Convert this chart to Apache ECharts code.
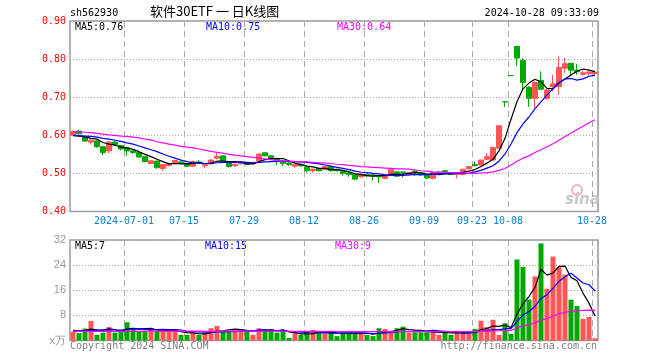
<!DOCTYPE html>
<html><head><meta charset="utf-8">
<script src="https://cdn.jsdelivr.net/npm/echarts@6/dist/echarts.min.js"></script>
<style>html,body{margin:0;padding:0;background:#fff}#c{width:660px;height:360px}</style>
</head><body><div id="c"></div>
<script>
const dates = ['2024-06-18','2024-06-19','2024-06-20','2024-06-21','2024-06-24','2024-06-25','2024-06-26','2024-06-27','2024-06-28',
'2024-07-01','2024-07-02','2024-07-03','2024-07-04','2024-07-05','2024-07-08','2024-07-09','2024-07-10','2024-07-11','2024-07-12',
'2024-07-15','2024-07-16','2024-07-17','2024-07-18','2024-07-19','2024-07-22','2024-07-23','2024-07-24','2024-07-25','2024-07-26',
'2024-07-29','2024-07-30','2024-07-31','2024-08-01','2024-08-02','2024-08-05','2024-08-06','2024-08-07','2024-08-08','2024-08-09',
'2024-08-12','2024-08-13','2024-08-14','2024-08-15','2024-08-16','2024-08-19','2024-08-20','2024-08-21','2024-08-22','2024-08-23',
'2024-08-26','2024-08-27','2024-08-28','2024-08-29','2024-08-30','2024-09-02','2024-09-03','2024-09-04','2024-09-05','2024-09-06',
'2024-09-09','2024-09-10','2024-09-11','2024-09-12','2024-09-13','2024-09-18','2024-09-19','2024-09-20',
'2024-09-23','2024-09-24','2024-09-25','2024-09-26','2024-09-27','2024-09-30',
'2024-10-08','2024-10-09','2024-10-10','2024-10-11','2024-10-14','2024-10-15','2024-10-16','2024-10-17','2024-10-18',
'2024-10-21','2024-10-22','2024-10-23','2024-10-24','2024-10-25','2024-10-28'];

const opens = [.600,.611,.594,.582,.585,.570,.559,.582,.573,.567,
.559,.555,.544,.526,.532,.513,.521,.528,.530,.526,
.519,.530,.520,.525,.540,.546,.527,.520,.525,.528,
.525,.533,.554,.546,.537,.529,.527,.519,.524,.516,
.507,.513,.511,.518,.511,.505,.501,.498,.491,.497,
.496,.494,.487,.498,.504,.504,.497,.506,.502,.495,
.487,.501,.507,.499,.497,.497,.512,.523,.522,.537,
.535,.566,.688,.757,.833,.796,.726,.697,.744,.697,
.728,.728,.776,.789,.771,.760,.762,.762];
const closes = [.610,.604,.585,.587,.570,.555,.582,.576,.564,.559,
.555,.543,.531,.533,.515,.523,.525,.534,.527,.519,
.531,.527,.524,.535,.545,.533,.518,.524,.528,.524,
.529,.551,.546,.538,.532,.526,.523,.523,.520,.507,
.511,.507,.518,.507,.507,.500,.497,.485,.498,.494,
.493,.491,.493,.511,.493,.502,.502,.503,.496,.488,
.502,.504,.505,.497,.499,.511,.518,.521,.535,.544,
.568,.625,.688,.757,.803,.739,.697,.739,.721,.719,
.735,.778,.788,.771,.767,.764,.766,.766];
const lows = [.598,.602,.582,.576,.567,.548,.553,.573,.560,.546,
.551,.540,.529,.524,.512,.507,.518,.526,.525,.517,
.517,.525,.513,.523,.537,.532,.515,.517,.523,.522,
.523,.531,.545,.535,.522,.519,.520,.513,.518,.502,
.502,.505,.509,.505,.505,.494,.491,.482,.489,.490,
.482,.475,.485,.496,.491,.489,.495,.493,.494,.486,
.484,.499,.498,.496,.487,.495,.510,.518,.521,.535,
.534,.565,.674,.757,.781,.721,.675,.672,.718,.693,
.715,.706,.763,.755,.759,.757,.757,.758];
const highs = [.612,.615,.596,.589,.587,.571,.586,.585,.575,.570,
.562,.557,.546,.535,.534,.524,.528,.536,.532,.527,
.533,.535,.525,.537,.557,.547,.529,.526,.529,.530,
.530,.552,.556,.548,.541,.531,.530,.526,.526,.517,
.512,.514,.519,.521,.512,.507,.502,.499,.499,.499,
.500,.495,.494,.512,.505,.504,.503,.509,.503,.496,
.503,.505,.509,.500,.500,.512,.519,.531,.536,.553,
.570,.627,.688,.757,.833,.803,.729,.741,.768,.721,
.759,.807,.803,.790,.788,.770,.770,.768];

const ma5 = [.599,.598,.596,.592,.590,.581,.577,.574,.569,.567,
.563,.557,.550,.544,.537,.531,.525,.526,.525,.525,
.527,.528,.526,.527,.532,.532,.531,.531,.530,.525,
.525,.531,.536,.538,.539,.539,.533,.527,.523,.519,
.517,.513,.513,.510,.510,.508,.504,.499,.497,.494,
.493,.494,.494,.498,.497,.498,.500,.502,.501,.498,
.498,.497,.499,.499,.501,.503,.506,.510,.518,.527,
.537,.559,.592,.642,.688,.722,.737,.747,.740,.723,
.722,.738,.748,.758,.768,.774,.771,.767];
const ma10 = [.600,.599,.598,.597,.595,.592,.590,.587,.584,.580,
.577,.572,.567,.562,.557,.551,.545,.540,.535,.531,
.528,.527,.526,.526,.528,.529,.529,.529,.530,.529,
.528,.529,.530,.531,.532,.532,.531,.531,.530,.529,
.527,.525,.522,.519,.516,.513,.510,.506,.503,.502,
.500,.499,.496,.495,.494,.495,.496,.497,.497,.497,
.498,.499,.500,.500,.500,.500,.500,.504,.508,.514,
.520,.532,.551,.577,.607,.630,.648,.670,.688,.706,
.722,.738,.748,.749,.745,.748,.755,.758];
const ma30 = [.610,.609,.608,.607,.605,.603,.601,.600,.598,.597,
.595,.593,.590,.588,.583,.580,.577,.574,.571,.569,
.567,.564,.561,.558,.555,.553,.550,.548,.546,.544,
.542,.540,.538,.536,.534,.533,.532,.531,.530,.530,
.529,.528,.527,.526,.524,.523,.521,.520,.518,.517,
.516,.515,.514,.513,.512,.512,.511,.509,.507,.506,
.504,.503,.503,.502,.502,.501,.500,.500,.501,.502,
.504,.508,.513,.522,.532,.540,.546,.555,.562,.570,
.578,.587,.597,.606,.615,.624,.633,.641];

const volumes = [2.8,2.4,3.8,6.2,1.8,2.5,4.3,2.5,3.5,5.8,
3.6,3.0,3.0,3.9,3.0,3.0,3.0,3.0,1.8,1.8,
2.5,1.8,2.4,3.9,4.6,3.0,3.0,3.6,3.5,3.1,
1.8,3.9,3.6,3.7,2.5,3.1,0.8,2.5,1.8,2.3,
3.4,2.5,2.3,2.3,1.4,3.0,2.3,2.3,2.3,1.8,
1.4,3.9,3.7,3.1,3.9,4.4,2.5,2.6,2.6,2.6,
3.2,1.8,2.6,1.8,3.0,2.3,2.3,3.7,6.3,4.3,
6.6,1.8,5.5,2.1,25.8,23.4,13.0,20.4,30.9,16.5,
26.7,23.4,21.0,13.0,11.0,6.9,7.5,0.7];
const volMa5 = [3.2,3.1,3.2,3.6,3.4,3.3,3.7,3.5,2.9,3.7,
3.9,3.7,3.8,3.9,3.3,3.2,3.2,3.2,2.8,2.5,
2.4,2.2,2.1,2.5,3.0,3.1,3.4,3.6,3.5,3.2,
3.0,3.2,3.2,3.2,3.1,3.4,2.7,2.5,2.1,2.1,
2.2,2.5,2.5,2.6,2.4,2.3,2.3,2.3,2.3,2.3,
2.0,2.3,2.6,2.8,3.2,3.8,3.5,3.3,3.2,2.9,
2.7,2.6,2.6,2.4,2.5,2.3,2.4,2.6,3.5,3.8,
4.6,4.5,4.9,4.1,8.4,11.7,14.0,16.9,22.7,20.8,
21.5,23.6,23.7,20.1,19.0,15.1,11.9,7.8];
const volMa10 = [3.0,3.0,3.1,3.2,3.2,3.3,3.4,3.35,3.25,3.55,
3.6,3.7,3.65,3.4,3.5,3.55,3.45,3.5,3.35,2.9,
2.8,2.7,2.65,2.65,2.75,2.75,2.8,2.85,3.0,3.1,
3.05,3.3,3.4,3.35,3.15,3.2,2.95,2.85,2.65,2.6,
2.8,2.6,2.5,2.35,2.25,2.25,2.4,2.4,2.45,2.35,
2.15,2.3,2.45,2.55,2.75,2.9,2.9,2.95,3.0,3.05,
3.25,3.05,2.95,2.8,2.7,2.5,2.5,2.6,2.95,3.15,
3.45,3.45,3.75,3.8,6.1,8.15,9.25,10.9,13.4,14.6,
16.6,18.8,20.3,21.4,19.9,18.3,17.75,15.75];
const volMa30 = [2.9,2.9,2.9,2.9,2.9,2.9,2.9,2.9,2.9,2.9,
2.9,2.9,3.0,3.0,3.0,3.0,3.0,3.0,3.0,3.0,
3.0,3.0,2.9,2.9,2.9,3.0,3.0,3.0,3.0,3.0,
3.0,3.0,3.0,3.0,3.0,3.0,2.9,2.9,2.9,2.9,
2.9,2.9,2.9,2.9,2.8,2.8,2.8,2.8,2.8,2.8,
2.8,2.8,2.8,2.8,2.8,2.8,2.8,2.8,2.8,2.8,
2.8,2.8,2.8,2.8,2.8,2.8,2.8,2.8,2.9,3.0,
3.1,3.1,3.2,3.2,4.0,4.7,5.0,5.6,6.5,7.0,
7.8,8.5,9.0,9.3,9.5,9.6,9.7,9.6];

const tickDates = ['2024-07-01','2024-07-15','2024-07-29','2024-08-12','2024-08-26','2024-09-09','2024-09-23','2024-10-08','2024-10-28'];
const tickLabels = ['2024-07-01','07-15','07-29','08-12','08-26','09-09','09-23','10-08','10-28'];
const priceTicks = {min:0.40, max:0.90, step:0.10};
const volTicks = {min:0, max:32, step:8};
const maLabels = {price:['MA5:0.76','MA10:0.75','MA30:0.64'], vol:['MA5:7','MA10:15','MA30:9']};

const UP = '#ff5555', DOWN = '#00a800';
const MONO = 'DejaVu Sans Mono';
const tickIdx = tickDates.map(d => dates.indexOf(d));
const isTick = (i) => tickIdx.indexOf(i) >= 0;

const candle = dates.map((d,i) => [opens[i], closes[i], lows[i], highs[i]]);
const volBars = volumes.map((v,i) => ({value:v, itemStyle:{color: closes[i] > opens[i] ? UP : DOWN}}));

const gridBorder = {show:true, borderColor:'#9a9a9a', borderWidth:1.5, backgroundColor:'transparent'};
const vSplit = {show:true, interval:(i)=>isTick(i), lineStyle:{color:'#aaaaaa', type:[6,4], width:1}};
const hSplit = {show:true, lineStyle:{color:'#aaaaaa', type:[1,2], width:1}};

function lineSeries(data, color, xi){
  return {type:'line', data, xAxisIndex:xi, yAxisIndex:xi, showSymbol:false, symbol:'none',
    lineStyle:{color, width:1.2}, itemStyle:{color}, silent:true, z:5};
}

const chart = echarts.init(document.getElementById('c'), null, {renderer:'canvas'});
chart.setOption({
  animation:false,
  backgroundColor:'#fff',
  grid:[
    Object.assign({left:70, top:21, width:528, height:190.5}, gridBorder),
    Object.assign({left:70, top:240, width:528, height:100.5}, gridBorder)
  ],
  xAxis:[
    {type:'category', data:dates, gridIndex:0, boundaryGap:true,
     axisLine:{show:false}, axisTick:{show:false},
     axisLabel:{interval:(i)=>isTick(i), formatter:(v,i)=>tickLabels[tickIdx.indexOf(i)] || '',
       color:'#0a7fd6', fontFamily:MONO, fontSize:10, margin:5, padding:[0,6,0,0]},
     splitLine:vSplit},
    {type:'category', data:dates, gridIndex:1, boundaryGap:true,
     axisLine:{show:false}, axisTick:{show:false}, axisLabel:{show:false},
     splitLine:vSplit}
  ],
  yAxis:[
    {type:'value', gridIndex:0, min:priceTicks.min, max:priceTicks.max, interval:priceTicks.step,
     axisLine:{show:false}, axisTick:{show:false},
     axisLabel:{color:'#ff0000', fontFamily:MONO, fontSize:10, margin:4, formatter:(v)=>v.toFixed(2)},
     splitLine:hSplit},
    {type:'value', gridIndex:1, min:volTicks.min, max:volTicks.max, interval:volTicks.step,
     axisLine:{show:false}, axisTick:{show:false},
     axisLabel:{color:'#999999', fontFamily:'Liberation Sans', fontSize:11, margin:4, formatter:(v)=> v===0 ? 'x万' : String(v)},
     splitLine:hSplit}
  ],
  series:[
    {type:'candlestick', data:candle, xAxisIndex:0, yAxisIndex:0, barWidth:5,
     itemStyle:{color:UP, color0:DOWN, borderColor:UP, borderColor0:DOWN, borderColorDoji:DOWN, borderWidth:1}, z:3},
    lineSeries(ma5, '#000000', 0),
    lineSeries(ma10, '#0000ff', 0),
    lineSeries(ma30, '#ff00ff', 0),
    {type:'bar', data:volBars, xAxisIndex:1, yAxisIndex:1, barWidth:5, z:3},
    lineSeries(volMa5, '#000000', 1),
    lineSeries(volMa10, '#0000ff', 1),
    lineSeries(volMa30, '#ff00ff', 1)
  ],
  graphic:[
    {type:'text', left:70, top:8, style:{text:'sh562930', fill:'#000', font:'10px "DejaVu Sans Mono"'}},
    {type:'text', left:150, top:5, style:{text:'软件30ETF 一 日K线图', fill:'#000', font:'13px "Noto Sans CJK SC"'}},
    {type:'text', right:61, top:8, style:{text:'2024-10-28 09:33:09', fill:'#000', font:'10px "DejaVu Sans Mono"'}},
    {type:'text', left:75, top:22, style:{text:maLabels.price[0], fill:'#000', font:'10px "DejaVu Sans Mono"'}},
    {type:'text', left:206, top:22, style:{text:maLabels.price[1], fill:'#0000ff', font:'10px "DejaVu Sans Mono"'}},
    {type:'text', left:337, top:22, style:{text:maLabels.price[2], fill:'#ff00ff', font:'10px "DejaVu Sans Mono"'}},
    {type:'text', left:75, top:241, style:{text:maLabels.vol[0], fill:'#000', font:'10px "DejaVu Sans Mono"'}},
    {type:'text', left:205, top:241, style:{text:maLabels.vol[1], fill:'#0000ff', font:'10px "DejaVu Sans Mono"'}},
    {type:'text', left:335, top:241, style:{text:maLabels.vol[2], fill:'#ff00ff', font:'10px "DejaVu Sans Mono"'}},
    {type:'text', left:70, top:341, style:{text:'Copyright 2024 SINA.COM', fill:'#808080', font:'10px "DejaVu Sans Mono"'}},
    {type:'text', right:63, top:341, style:{text:'http://finance.sina.com.cn', fill:'#808080', font:'10px "DejaVu Sans Mono"'}},
    {type:'circle', shape:{cx:577, cy:190, r:5}, style:{fill:'none', stroke:'#f0b4b4', lineWidth:2}},
    {type:'text', left:565, top:193, style:{text:'sina', fill:'#c8c8c8', font:'italic bold 15px "DejaVu Sans"'}}
  ]
});
</script></body></html>
